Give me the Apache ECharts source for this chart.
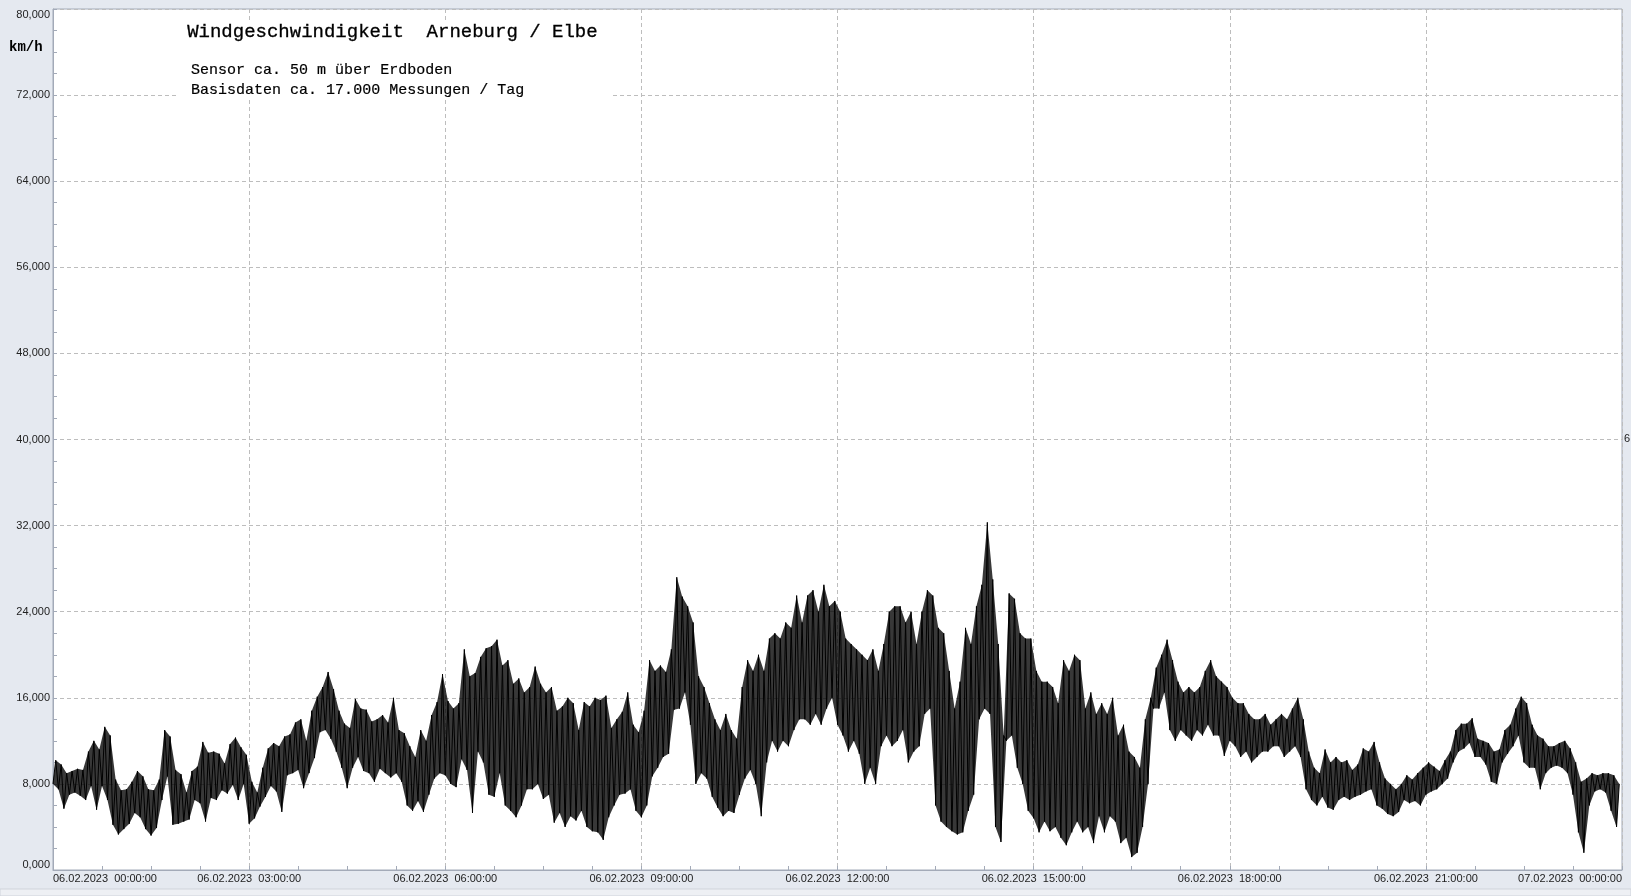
<!DOCTYPE html>
<html>
<head>
<meta charset="utf-8">
<script src="https://cdn.jsdelivr.net/npm/echarts@6/dist/echarts.min.js"></script>
<style>
html,body{margin:0;padding:0;background:#e5e9f0;}
#c{width:1631px;height:896px;}
</style>
</head>
<body>
<div id="c"></div>
<script>
const BIN_MINUTES = 5;
const LO = [
 8.0,7.5,5.7,7.0,7.2,6.9,6.5,7.8,5.6,7.8,6.5,4.2,3.3,3.8,4.3,5.3,4.9,3.8,3.2,3.9,
 6.5,8.7,4.2,4.3,4.5,4.7,6.5,6.2,4.5,6.7,6.5,7.4,7.1,7.9,6.5,8.0,4.3,4.8,5.9,6.8,
 7.8,7.3,5.4,8.8,9.0,9.3,7.6,9.0,10.4,12.8,13.0,12.2,11.0,9.5,7.6,9.5,10.5,9.2,
 9.0,8.2,9.4,9.0,8.6,9.0,8.2,6.0,5.5,6.4,5.4,7.0,8.5,9.0,8.8,8.0,7.7,10.3,9.3,5.3,
 11.0,10.0,7.0,6.8,9.0,6.0,5.5,4.9,6.0,7.5,7.5,8.0,6.6,7.0,4.4,5.3,4.0,5.0,4.6,5.5,
 4.0,3.6,3.5,2.8,4.9,6.0,7.0,7.1,7.5,5.5,4.9,6.0,8.7,9.5,10.5,10.8,14.9,15.0,
 16.5,13.5,8.0,9.0,8.5,6.8,5.8,5.0,5.5,5.3,7.0,8.5,9.3,8.0,5.0,10.0,12.0,11.0,12.0,11.5,
 13.0,14.0,14.0,13.5,14.5,13.5,15.0,16.0,13.5,12.5,11.0,12.0,10.8,8.0,9.5,8.0,11.5,12.5,
 11.5,12.0,13.0,10.0,11.0,11.5,14.5,15.0,6.0,4.5,4.0,3.6,3.3,3.5,5.5,7.0,14.0,15.0,14.5,4.0,
 2.6,12.0,12.5,9.5,8.0,5.5,4.8,3.5,4.5,3.6,4.0,3.0,2.3,3.5,4.5,3.5,4.0,2.5,5.0,3.5,
 5.0,4.5,2.5,3.0,1.2,1.6,4.0,8.0,15.0,15.0,16.5,13.0,12.0,13.0,12.5,12.0,13.0,12.5,13.5,12.5,
 12.5,10.6,12.0,11.5,10.5,11.0,10.0,10.5,11.0,11.0,11.5,11.5,10.5,11.0,11.5,10.5,7.5,
 6.5,6.0,6.8,5.8,5.6,6.5,6.8,6.5,6.8,7.0,7.3,7.5,6.0,5.7,5.2,5.0,5.4,6.5,6.2,6.4,
 6.0,7.0,7.3,7.5,8.0,8.5,10.0,11.0,11.3,11.8,10.5,10.5,9.8,8.2,8.0,10.0,10.8,11.5,12.5,10.0,
 9.5,9.5,7.5,9.0,9.5,9.7,9.5,9.0,7.0,3.5,1.6,6.0,7.3,7.5,7.2,5.5,4.0
];
const HI = [
 10.2,9.8,9.0,9.2,9.4,9.3,11.0,12.0,11.2,13.3,12.5,8.4,7.4,7.5,8.2,9.2,8.7,7.5,7.4,8.4,
 13.0,12.4,9.3,8.9,7.2,9.2,9.6,11.9,10.9,11.0,10.8,9.9,11.7,12.3,11.4,10.7,8.2,7.2,9.5,11.3,
 11.8,11.5,12.4,12.6,13.7,14.0,12.0,14.8,16.1,17.0,18.4,16.8,14.8,13.6,13.2,15.9,15.0,14.9,
 13.8,14.0,14.4,13.7,16.0,13.0,12.7,11.5,10.5,13.0,12.0,14.4,15.6,18.2,15.7,15.0,15.5,20.5,18.0,18.3,
 19.8,20.6,20.8,21.4,19.0,19.5,17.3,17.8,16.5,17.0,18.9,17.3,16.5,17.0,14.8,15.2,16.0,15.5,13.0,15.6,
 15.2,16.0,15.8,16.2,13.2,14.0,14.7,16.5,13.5,12.8,14.8,19.5,18.5,19.0,18.4,20.5,27.2,25.4,
 24.5,23.0,18.0,17.0,15.5,14.0,13.0,14.5,13.0,12.2,17.0,19.5,18.5,20.0,18.5,21.5,22.0,21.5,23.0,22.5,
 25.5,23.0,25.5,26.0,24.0,26.5,24.5,25.0,24.0,21.5,21.0,20.5,20.0,19.5,20.5,18.5,21.0,24.0,
 24.5,24.5,23.0,24.0,21.0,24.0,26.0,25.5,22.5,22.0,18.5,15.0,17.5,22.5,21.0,24.5,26.5,32.3,27.0,21.0,
 12.5,25.7,25.2,22.0,21.5,21.5,18.5,17.5,17.5,17.0,15.5,19.5,18.5,20.0,19.5,15.0,16.5,14.5,15.5,14.5,
 16.0,12.5,13.5,11.0,10.5,9.5,14.0,16.0,18.8,20.0,21.4,19.5,17.5,16.5,17.0,16.5,17.0,18.5,19.5,18.0,
 17.5,17.0,16.0,15.5,15.5,14.5,14.0,14.0,14.5,13.5,14.0,14.5,14.0,15.0,16.0,14.0,11.0,
 9.5,9.0,11.2,10.0,10.5,10.0,10.2,9.3,9.8,11.3,11.0,11.9,10.0,8.5,8.0,7.5,8.0,8.8,8.4,9.0,
 9.5,10.0,9.6,9.2,10.2,11.0,13.0,13.6,13.6,14.1,12.2,12.0,11.8,11.0,11.2,13.0,13.5,15.0,16.1,15.5,
 13.5,12.5,12.2,11.5,11.5,11.8,12.0,11.3,10.0,8.2,8.5,9.0,8.8,9.0,9.0,8.8,8.0
];
const Y_TICKS = [0,8,16,24,32,40,48,56,64,72,80];
const X_HOURS = [0,3,6,9,12,15,18,21,24];
const TITLE = 'Windgeschwindigkeit  Arneburg / Elbe';
const SUB1 = 'Sensor ca. 50 m über Erdboden';
const SUB2 = 'Basisdaten ca. 17.000 Messungen / Tag';
const UNIT = 'km/h';

const pts = [];
const upper = [];
const lower = [];
for (let k = 0; k < LO.length; k++) {
  const t = k * BIN_MINUTES / 60;
  const tm = t + BIN_MINUTES / 120;
  pts.push([t, LO[k]]);
  pts.push([tm, HI[k]]);
  lower.push([t, LO[k]]);
  upper.push([tm, HI[k]]);
}

function xLabel(h) {
  const day = h >= 24 ? '07' : '06';
  const hh = String(h % 24).padStart(2, '0');
  return day + '.02.2023  ' + hh + ':00:00';
}

const chart = echarts.init(document.getElementById('c'), null, {renderer: 'canvas'});
chart.setOption({
  animation: false,
  backgroundColor: '#e5e9f0',
  grid: {
    left: 53, right: 9, top: 9, bottom: 26,
    show: true, backgroundColor: '#ffffff', borderColor: '#a3aab8', borderWidth: 1
  },
  xAxis: {
    type: 'value', min: X_HOURS[0], max: X_HOURS[X_HOURS.length - 1], interval: 3,
    axisLine: {show: true, lineStyle: {color: '#a3aab8'}},
    axisTick: {show: true, inside: true, length: 4, lineStyle: {color: '#a3aab8'}},
    minorTick: {show: true, splitNumber: 4, length: 4, lineStyle: {color: '#a3aab8'}},
    splitLine: {show: true, lineStyle: {color: '#bdbdbd', type: [4, 3], width: 1}},
    axisLabel: {
      formatter: xLabel, fontFamily: 'Liberation Sans, Arial', fontSize: 11, color: '#222',
      margin: 3, alignMinLabel: 'left', alignMaxLabel: 'right'
    }
  },
  yAxis: {
    type: 'value', min: Y_TICKS[0], max: Y_TICKS[Y_TICKS.length - 1], interval: 8,
    axisLine: {show: true, lineStyle: {color: '#a3aab8'}},
    axisTick: {show: true, inside: true, length: 4, lineStyle: {color: '#a3aab8'}},
    minorTick: {show: true, splitNumber: 4, length: 4, lineStyle: {color: '#a3aab8'}},
    splitLine: {show: true, lineStyle: {color: '#bdbdbd', type: [4, 3], width: 1}},
    axisLabel: {
      formatter: v => v.toFixed(3).replace('.', ','),
      fontFamily: 'Liberation Sans, Arial', fontSize: 11, color: '#222', margin: 3,
      verticalAlignMinLabel: 'bottom', verticalAlignMaxLabel: 'top'
    }
  },
  series: [
    {
      type: 'custom', z: 2, silent: true,
      data: [0],
      renderItem: function (params, api) {
        const poly = [];
        for (let i = 0; i < upper.length; i++) poly.push(api.coord(upper[i]));
        for (let i = lower.length - 1; i >= 0; i--) poly.push(api.coord(lower[i]));
        return {type: 'polygon', shape: {points: poly}, style: {fill: 'rgba(0,0,0,0.78)', stroke: null}};
      }
    },
    {
      type: 'line', data: pts, showSymbol: false, symbol: 'none',
      lineStyle: {color: '#000', width: 1}, z: 3
    }
  ],
  graphic: [
    {type: 'rect', z: 10, shape: {x: 177, y: 21, width: 435, height: 78}, style: {fill: '#fff'}},
    {type: 'text', z: 11, left: 187, top: 22, style: {text: TITLE, font: '19px "Liberation Mono", "Courier New", monospace', fill: '#000', stroke: '#000', lineWidth: 0.3}},
    {type: 'text', z: 11, left: 191, top: 62, style: {text: SUB1, font: '15px "Liberation Mono", "Courier New", monospace', fill: '#000', stroke: '#000', lineWidth: 0.2}},
    {type: 'text', z: 11, left: 191, top: 82, style: {text: SUB2, font: '15px "Liberation Mono", "Courier New", monospace', fill: '#000', stroke: '#000', lineWidth: 0.2}},
    {type: 'text', z: 11, left: 9, top: 40, style: {text: UNIT, font: 'bold 14px "Liberation Mono", "Courier New", monospace', fill: '#000'}},
    {type: 'text', z: 11, left: 1624, top: 433, style: {text: '6', font: '11px "Liberation Sans", Arial', fill: '#222'}},
    {type: 'rect', z: 0, shape: {x: 0, y: 889, width: 1631, height: 7}, style: {fill: '#eef0f4', stroke: '#cfd3db', lineWidth: 1}}
  ]
});
</script>
</body>
</html>
